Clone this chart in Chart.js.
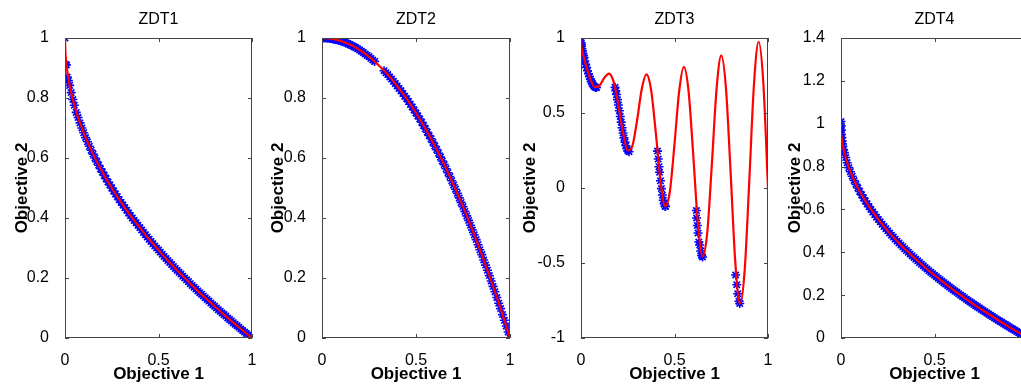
<!DOCTYPE html>
<html>
<head>
<meta charset="utf-8">
<script src="https://cdn.jsdelivr.net/npm/chart.js@4/dist/chart.umd.min.js"></script>
<style>
  body { margin: 0; background: #fff; overflow: hidden; width: 1021px; height: 388px; position: relative; }
  canvas { position: absolute; top: 0; }
</style>
</head>
<body>
<canvas id="zdt1" width="262" height="388" style="left:0px"></canvas>
<canvas id="zdt2" width="258" height="388" style="left:262px"></canvas>
<canvas id="zdt3" width="258" height="388" style="left:520px"></canvas>
<canvas id="zdt4" width="262" height="388" style="left:778px"></canvas>
<script>
// tick labels
const xTicks = [0, 0.5, 1];
const yTicksUnit = [0, 0.2, 0.4, 0.6, 0.8, 1];
const yTicksZdt3 = [-1, -0.5, 0, 0.5, 1];
const yTicksZdt4 = [0, 0.2, 0.4, 0.6, 0.8, 1, 1.2, 1.4];

// ZDT1 true front (red) and obtained solutions (blue)
const front1X = [0, 0.002, 0.005, 0.01, 0.02, 0.03, 0.05, 0.075, 0.1, 0.15, 0.2, 0.25, 0.3, 0.35, 0.4, 0.45, 0.5, 0.55, 0.6, 0.65, 0.7, 0.75, 0.8, 0.85, 0.9, 0.95, 1];
const front1Y = [1, 0.955, 0.929, 0.9, 0.859, 0.827, 0.776, 0.726, 0.684, 0.613, 0.553, 0.5, 0.452, 0.408, 0.368, 0.329, 0.293, 0.258, 0.225, 0.194, 0.163, 0.134, 0.106, 0.078, 0.051, 0.025, 0];
const sol1X = [0, 0.003, 0.008, 0.012, 0.018, 0.025, 0.033, 0.042, 0.05, 0.06, 0.07, 0.08, 0.09,
  0.1, 0.11, 0.12, 0.13, 0.14, 0.15, 0.16, 0.17, 0.18, 0.19, 0.2, 0.21, 0.22, 0.23, 0.24, 0.25, 0.26, 0.27, 0.28, 0.29,
  0.3, 0.31, 0.32, 0.33, 0.34, 0.35, 0.36, 0.37, 0.38, 0.39, 0.4, 0.41, 0.42, 0.43, 0.44, 0.45, 0.46, 0.47, 0.48, 0.49,
  0.5, 0.51, 0.52, 0.53, 0.54, 0.55, 0.56, 0.57, 0.58, 0.59, 0.6, 0.61, 0.62, 0.63, 0.64, 0.65, 0.66, 0.67, 0.68, 0.69,
  0.7, 0.71, 0.72, 0.73, 0.74, 0.75, 0.76, 0.77, 0.78, 0.79, 0.8, 0.81, 0.82, 0.83, 0.84, 0.85, 0.86, 0.87, 0.88, 0.89,
  0.9, 0.91, 0.92, 0.93, 0.94, 0.95, 0.96, 0.97, 0.98, 0.99, 1];
const sol1Y = [1, 0.912, 0.91, 0.87, 0.858, 0.842, 0.818, 0.795, 0.776, 0.752, 0.735, 0.717, 0.7,
  0.684, 0.668, 0.654, 0.639, 0.626, 0.613, 0.6, 0.588, 0.576, 0.564, 0.553, 0.542, 0.531, 0.52, 0.51, 0.5, 0.49, 0.48, 0.471, 0.461,
  0.452, 0.443, 0.434, 0.426, 0.417, 0.408, 0.4, 0.392, 0.384, 0.376, 0.368, 0.36, 0.352, 0.344, 0.337, 0.329, 0.322, 0.314, 0.307, 0.3,
  0.293, 0.286, 0.279, 0.272, 0.265, 0.258, 0.252, 0.245, 0.238, 0.232, 0.225, 0.219, 0.213, 0.206, 0.2, 0.194, 0.188, 0.181, 0.175, 0.169,
  0.163, 0.157, 0.151, 0.146, 0.14, 0.134, 0.128, 0.123, 0.117, 0.111, 0.106, 0.1, 0.094, 0.089, 0.083, 0.078, 0.073, 0.067, 0.062, 0.057,
  0.051, 0.046, 0.041, 0.036, 0.03, 0.025, 0.02, 0.015, 0.01, 0.005, 0];

// ZDT2
const front2X = [0, 0.05, 0.1, 0.15, 0.2, 0.25, 0.3, 0.35, 0.4, 0.45, 0.5, 0.55, 0.6, 0.65, 0.7, 0.75, 0.8, 0.85, 0.9, 0.95, 1];
const front2Y = [1, 0.998, 0.99, 0.978, 0.96, 0.938, 0.91, 0.878, 0.84, 0.798, 0.75, 0.698, 0.64, 0.578, 0.51, 0.438, 0.36, 0.278, 0.19, 0.098, 0];
const sol2X = [0, 0.01, 0.02, 0.03, 0.04, 0.05, 0.06, 0.07, 0.08, 0.09, 0.1, 0.11, 0.12, 0.13, 0.14, 0.15, 0.16, 0.17, 0.18, 0.19,
  0.2, 0.21, 0.22, 0.23, 0.24, 0.25, 0.26, 0.27, 0.28, 0.33, 0.34, 0.35, 0.36, 0.37, 0.38, 0.39,
  0.4, 0.41, 0.42, 0.43, 0.44, 0.45, 0.46, 0.47, 0.48, 0.49, 0.5, 0.51, 0.52, 0.53, 0.54, 0.55, 0.56, 0.57, 0.58, 0.59,
  0.6, 0.61, 0.62, 0.63, 0.64, 0.65, 0.66, 0.67, 0.68, 0.69, 0.7, 0.71, 0.72, 0.73, 0.74, 0.75, 0.76, 0.77, 0.78, 0.79,
  0.8, 0.81, 0.82, 0.83, 0.84, 0.85, 0.86, 0.87, 0.88, 0.89, 0.9, 0.91, 0.92, 0.93, 0.94, 0.95, 0.96, 0.97, 0.98, 0.99, 1];
const sol2Y = [1, 1, 1, 0.999, 0.998, 0.998, 0.996, 0.995, 0.994, 0.992, 0.99, 0.988, 0.986, 0.983, 0.98, 0.978, 0.974, 0.971, 0.968, 0.964,
  0.96, 0.956, 0.952, 0.947, 0.942, 0.938, 0.932, 0.927, 0.922, 0.891, 0.884, 0.878, 0.87, 0.863, 0.856, 0.848,
  0.84, 0.832, 0.824, 0.815, 0.806, 0.798, 0.788, 0.779, 0.77, 0.76, 0.75, 0.74, 0.73, 0.719, 0.708, 0.698, 0.686, 0.675, 0.664, 0.652,
  0.64, 0.628, 0.616, 0.603, 0.59, 0.578, 0.564, 0.551, 0.538, 0.524, 0.51, 0.496, 0.482, 0.467, 0.452, 0.438, 0.422, 0.407, 0.392, 0.376,
  0.36, 0.344, 0.328, 0.311, 0.294, 0.278, 0.26, 0.243, 0.226, 0.208, 0.19, 0.172, 0.154, 0.135, 0.116, 0.098, 0.078, 0.059, 0.04, 0.02, 0];

// ZDT3 (disconnected front)
const front3X = [0, 0.002, 0.01, 0.025, 0.05, 0.075, 0.1, 0.125, 0.15, 0.175, 0.2, 0.225, 0.25, 0.275, 0.3, 0.325, 0.35, 0.375, 0.4, 0.425, 0.45, 0.475, 0.5, 0.525, 0.55, 0.575, 0.6, 0.625, 0.65, 0.675, 0.7, 0.725, 0.75, 0.775, 0.8, 0.825, 0.85, 0.875, 0.9, 0.925, 0.95, 0.975, 1];
const front3Y = [1, 0.955, 0.897, 0.824, 0.726, 0.673, 0.684, 0.735, 0.763, 0.706, 0.553, 0.367, 0.25, 0.281, 0.452, 0.66, 0.758, 0.653, 0.368, 0.048, -0.121, -0.025, 0.293, 0.646, 0.808, 0.648, 0.225, -0.233, -0.456, -0.299, 0.163, 0.661, 0.884, 0.668, 0.106, -0.492, -0.772, -0.554, 0.051, 0.692, 0.975, 0.702, 0];
const sol3X = [0, 0.001, 0.002, 0.003, 0.005, 0.007, 0.01, 0.013, 0.016, 0.02, 0.025, 0.03, 0.035, 0.04, 0.045, 0.05, 0.055, 0.06, 0.065, 0.07, 0.075, 0.08, 0.083,
  0.182, 0.186, 0.19, 0.195, 0.2, 0.205, 0.21, 0.215, 0.22, 0.225, 0.23, 0.235, 0.24, 0.245, 0.25, 0.257,
  0.409, 0.413, 0.417, 0.42, 0.425, 0.43, 0.435, 0.44, 0.445, 0.45, 0.452,
  0.617, 0.618, 0.622, 0.626, 0.63, 0.635, 0.64, 0.645, 0.65,
  0.827, 0.833, 0.838, 0.845, 0.849];
const sol3Y = [1, 0.968, 0.955, 0.945, 0.928, 0.914, 0.897, 0.882, 0.869, 0.847, 0.824, 0.803, 0.782, 0.762, 0.743, 0.726, 0.711, 0.698, 0.687, 0.679, 0.673, 0.67, 0.67,
  0.671, 0.648, 0.623, 0.589, 0.553, 0.515, 0.477, 0.439, 0.402, 0.367, 0.334, 0.306, 0.282, 0.263, 0.25, 0.242,
  0.246, 0.193, 0.142, 0.105, 0.048, -0.004, -0.047, -0.082, -0.107, -0.121, -0.123,
  -0.15, -0.2, -0.25, -0.3, -0.36, -0.38, -0.42, -0.45, -0.46,
  -0.58, -0.645, -0.705, -0.755, -0.77];

// ZDT4
const front4X = [0, 0.002, 0.005, 0.01, 0.02, 0.03, 0.05, 0.075, 0.1, 0.15, 0.2, 0.25, 0.3, 0.35, 0.4, 0.45, 0.5, 0.55, 0.6, 0.65, 0.7, 0.75, 0.8, 0.85, 0.9, 0.95, 1];
const front4Y = [0.96, 0.94, 0.922, 0.895, 0.859, 0.827, 0.776, 0.726, 0.684, 0.613, 0.553, 0.5, 0.452, 0.408, 0.368, 0.329, 0.293, 0.258, 0.225, 0.194, 0.163, 0.134, 0.106, 0.078, 0.051, 0.025, 0];
const sol4X = [0, 0.001, 0.002, 0.003, 0.004, 0.006, 0.008, 0.01, 0.014, 0.018, 0.025, 0.033, 0.042, 0.05, 0.06, 0.07, 0.08, 0.09,
  0.1, 0.11, 0.12, 0.13, 0.14, 0.15, 0.16, 0.17, 0.18, 0.19, 0.2, 0.21, 0.22, 0.23, 0.24, 0.25, 0.26, 0.27, 0.28, 0.29,
  0.3, 0.31, 0.32, 0.33, 0.34, 0.35, 0.36, 0.37, 0.38, 0.39, 0.4, 0.41, 0.42, 0.43, 0.44, 0.45, 0.46, 0.47, 0.48, 0.49,
  0.5, 0.51, 0.52, 0.53, 0.54, 0.55, 0.56, 0.57, 0.58, 0.59, 0.6, 0.61, 0.62, 0.63, 0.64, 0.65, 0.66, 0.67, 0.68, 0.69,
  0.7, 0.71, 0.72, 0.73, 0.74, 0.75, 0.76, 0.77, 0.78, 0.79, 0.8, 0.81, 0.82, 0.83, 0.84, 0.85, 0.86, 0.87, 0.88, 0.89,
  0.9, 0.91, 0.92, 0.93, 0.94, 0.95, 0.96, 0.97, 0.98, 0.99, 1];
const sol4Y = [1.01, 0.99, 0.97, 0.95, 0.935, 0.92, 0.905, 0.895, 0.88, 0.865, 0.842, 0.818, 0.795, 0.776, 0.755, 0.735, 0.717, 0.7,
  0.684, 0.668, 0.654, 0.639, 0.626, 0.613, 0.6, 0.588, 0.576, 0.564, 0.553, 0.542, 0.531, 0.52, 0.51, 0.5, 0.49, 0.48, 0.471, 0.461,
  0.452, 0.443, 0.434, 0.426, 0.417, 0.408, 0.4, 0.392, 0.384, 0.376, 0.368, 0.36, 0.352, 0.344, 0.337, 0.329, 0.322, 0.314, 0.307, 0.3,
  0.293, 0.286, 0.279, 0.272, 0.265, 0.258, 0.252, 0.245, 0.238, 0.232, 0.225, 0.219, 0.213, 0.206, 0.2, 0.194, 0.188, 0.181, 0.175, 0.169,
  0.163, 0.157, 0.151, 0.146, 0.14, 0.134, 0.128, 0.123, 0.117, 0.111, 0.106, 0.1, 0.094, 0.089, 0.083, 0.078, 0.073, 0.067, 0.062, 0.057,
  0.051, 0.046, 0.041, 0.036, 0.03, 0.025, 0.02, 0.015, 0.01, 0.005, 0];

const FONT = '"Liberation Sans", Arial, sans-serif';
const toPoints = (xs, ys) => xs.map((x, i) => ({ x, y: ys[i] }));
const fmt = v => String(+v.toFixed(2));

// MATLAB-style box with inward ticks on all four sides, plus the panel title
const framePlugin = {
  id: 'frame',
  afterDraw(chart, args, opts) {
    const { ctx, chartArea: a, scales } = chart;
    ctx.save();
    ctx.strokeStyle = '#444';
    ctx.lineWidth = 1;
    ctx.strokeRect(a.left + 0.5, a.top + 0.5, a.right - a.left - 1, a.bottom - a.top - 1);
    ctx.beginPath();
    scales.x.ticks.forEach(t => {
      const px = Math.round(scales.x.getPixelForValue(t.value)) + 0.5;
      ctx.moveTo(px, a.bottom); ctx.lineTo(px, a.bottom - 4);
      ctx.moveTo(px, a.top); ctx.lineTo(px, a.top + 4);
    });
    scales.y.ticks.forEach(t => {
      const py = Math.round(scales.y.getPixelForValue(t.value)) + 0.5;
      ctx.moveTo(a.left, py); ctx.lineTo(a.left + 4, py);
      ctx.moveTo(a.right, py); ctx.lineTo(a.right - 4, py);
    });
    ctx.stroke();
    ctx.fillStyle = '#000';
    ctx.font = '16px ' + FONT;
    ctx.textAlign = 'center';
    ctx.textBaseline = 'middle';
    ctx.fillText(opts.text, (a.left + a.right) / 2, 20);
    ctx.restore();
  }
};

function makePanel(id, title, fx, fy, sx, sy, yTicks, yMin, yMax, axisWidth, padRight, yTitlePad) {
  return new Chart(document.getElementById(id), {
    type: 'scatter',
    data: {
      datasets: [
        {
          type: 'line',
          data: toPoints(fx, fy),
          borderColor: '#ff0000',
          borderWidth: 2.2,
          pointRadius: 0,
          cubicInterpolationMode: 'monotone',
          fill: false
        },
        {
          data: toPoints(sx, sy),
          pointStyle: 'star',
          pointRadius: 4.5,
          borderColor: '#0000ff',
          backgroundColor: '#0000ff',
          borderWidth: 1.6
        }
      ]
    },
    options: {
      responsive: false,
      animation: false,
      layout: { padding: { top: 38, right: padRight, left: 0, bottom: 0 } },
      plugins: { legend: { display: false }, tooltip: { enabled: false }, frame: { text: title } },
      scales: {
        x: {
          type: 'linear', min: 0, max: 1,
          afterBuildTicks: s => { s.ticks = xTicks.map(v => ({ value: v })); },
          afterFit: s => { s.height = 50; },
          grid: { display: false },
          border: { display: false },
          ticks: { callback: fmt, color: '#000', padding: 5, maxRotation: 0, font: { family: FONT, size: 16 } },
          title: { display: true, text: 'Objective 1', color: '#000', padding: { top: 0, bottom: 3 }, font: { family: FONT, size: 17, weight: 'bold' } }
        },
        y: {
          type: 'linear', min: yMin, max: yMax,
          afterBuildTicks: s => { s.ticks = yTicks.map(v => ({ value: v })); },
          afterFit: s => { s.width = axisWidth; },
          grid: { display: false },
          border: { display: false },
          ticks: { callback: fmt, color: '#000', padding: 8, font: { family: FONT, size: 16 } },
          title: { display: true, text: 'Objective 2', color: '#000', padding: { top: yTitlePad, bottom: 0 }, font: { family: FONT, size: 17, weight: 'bold' } }
        }
      }
    },
    plugins: [framePlugin]
  });
}

makePanel('zdt1', 'ZDT1', front1X, front1Y, sol1X, sol1Y, yTicksUnit, 0, 1, 65, 10, 11.8);
makePanel('zdt2', 'ZDT2', front2X, front2Y, sol2X, sol2Y, yTicksUnit, 0, 1, 60, 10, 5.8);
makePanel('zdt3', 'ZDT3', front3X, front3Y, sol3X, sol3Y, yTicksZdt3, -1, 1, 61, 10, 0);
makePanel('zdt4', 'ZDT4', front4X, front4Y, sol4X, sol4Y, yTicksZdt4, 0, 1.4, 63, 12, 6.8);
</script>
</body>
</html>
